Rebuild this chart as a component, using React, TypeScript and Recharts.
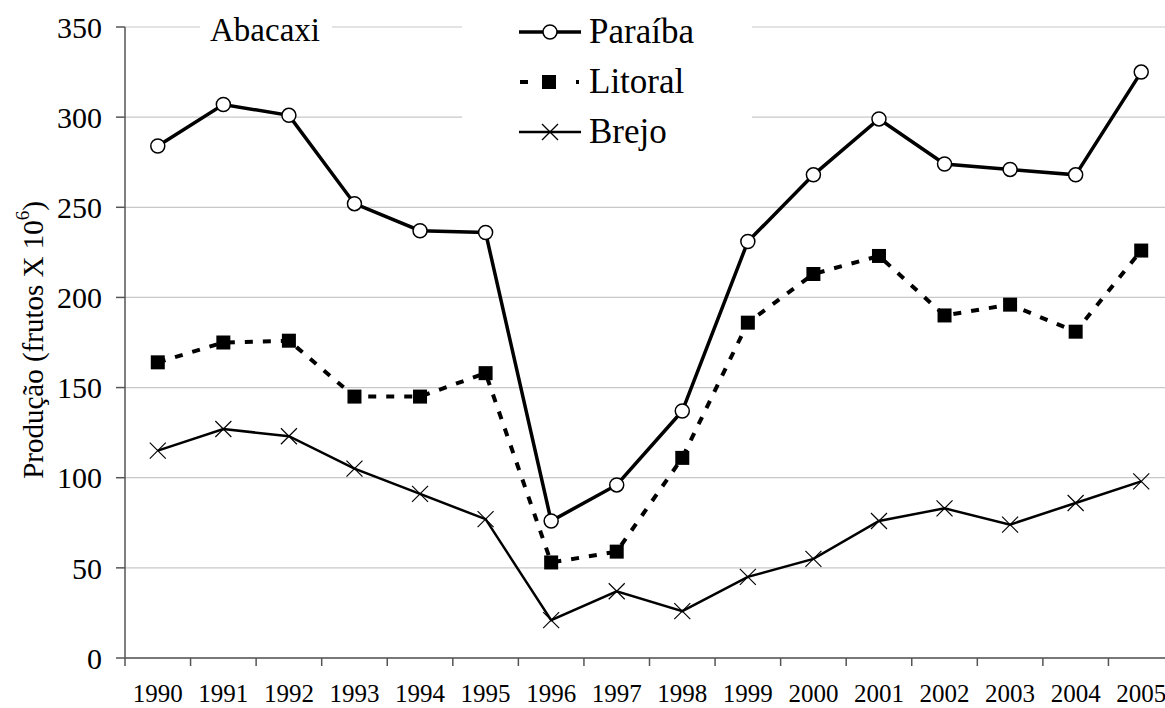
import { LineChart, Line, XAxis, YAxis, CartesianGrid } from "recharts";

// === Dados ===
const anos = ["1990", "1991", "1992", "1993", "1994", "1995", "1996", "1997", "1998", "1999", "2000", "2001", "2002", "2003", "2004", "2005"];
const paraiba = [284, 307, 301, 252, 237, 236, 76, 96, 137, 231, 268, 299, 274, 271, 268, 325];
const litoral = [164, 175, 176, 145, 145, 158, 53, 59, 111, 186, 213, 223, 190, 196, 181, 226];
const brejo = [115, 127, 123, 105, 91, 77, 21, 37, 26, 45, 55, 76, 83, 74, 86, 98];
const yTicks = [0, 50, 100, 150, 200, 250, 300, 350];

const data = anos.map((ano, i) => ({
  ano,
  Paraiba: paraiba[i],
  Litoral: litoral[i],
  Brejo: brejo[i],
}));

const FONT = "Liberation Serif";
const AXIS = "#555";
const X_TICK_MARGIN = 26;

// === Marcadores ===
const CircleDot = (p: any) =>
  p.cx == null ? null : <circle key={p.index} cx={p.cx} cy={p.cy} r={7} fill="#fff" stroke="#000" strokeWidth={1.5} />;

const SquareDot = (p: any) =>
  p.cx == null ? null : <rect key={p.index} x={p.cx - 7} y={p.cy - 7} width={14} height={14} fill="#000" />;

const CrossDot = (p: any) =>
  p.cx == null ? null : (
    <g key={p.index} stroke="#000" strokeWidth={1.2}>
      <line x1={p.cx - 8} y1={p.cy - 8} x2={p.cx + 8} y2={p.cy + 8} />
      <line x1={p.cx - 8} y1={p.cy + 8} x2={p.cx + 8} y2={p.cy - 8} />
    </g>
  );

// rótulo no centro da categoria, traço na divisa entre categorias
const YearTick = (p: any) => {
  const half = p.payload?.offset || 32.8;
  const axisY = p.y - X_TICK_MARGIN;
  return (
    <g>
      <line x1={p.x - half} x2={p.x - half} y1={axisY} y2={axisY + 8} stroke={AXIS} strokeWidth={1.5} />
      <text x={p.x} y={p.y} dy="0.71em" textAnchor="middle" fontFamily={FONT} fontSize={25} fill="#000">
        {p.payload.value}
      </text>
    </g>
  );
};

// === Legenda ===
function LegendRow({ kind, label }: { kind: string; label: string }) {
  return (
    <div style={{ display: "flex", alignItems: "center", height: 50 }}>
      <svg width={62} height={30} style={{ marginLeft: 57, marginRight: 8 }}>
        {kind === "circle" && (
          <g>
            <line x1={0} y1={15} x2={62} y2={15} stroke="#000" strokeWidth={3.5} />
            <circle cx={31} cy={15} r={7} fill="#fff" stroke="#000" strokeWidth={1.5} />
          </g>
        )}
        {kind === "square" && (
          <g>
            <line x1={1} y1={15} x2={9} y2={15} stroke="#000" strokeWidth={4} />
            <rect x={23} y={8} width={14} height={14} fill="#000" />
            <line x1={57} y1={15} x2={60} y2={15} stroke="#000" strokeWidth={4} />
          </g>
        )}
        {kind === "cross" && (
          <g stroke="#000">
            <line x1={0} y1={15} x2={62} y2={15} strokeWidth={2.5} />
            <line x1={23} y1={7} x2={39} y2={23} strokeWidth={1.2} />
            <line x1={23} y1={23} x2={39} y2={7} strokeWidth={1.2} />
          </g>
        )}
      </svg>
      <span style={{ fontSize: 35, lineHeight: "50px", fontFamily: FONT }}>{label}</span>
    </div>
  );
}

const YLabel = () => (
  <text
    x={33}
    y={340}
    transform="rotate(-90 33 340)"
    textAnchor="middle"
    dominantBaseline="central"
    fontFamily={FONT}
    fontSize={29}
    fill="#000"
  >
    Produção (frutos X 10
    <tspan dy={-11} fontSize={19}>6</tspan>
    <tspan dy={11}>)</tspan>
  </text>
);

export default function App() {
  return (
    <div
      style={{
        position: "fixed",
        left: 0,
        top: 0,
        width: 1165,
        height: 708,
        overflow: "hidden",
        background: "#fff",
        fontFamily: FONT,
        color: "#000",
      }}
    >
      <LineChart width={1180} height={708} data={data} margin={{ top: 27, right: 6, bottom: 0, left: 0 }}>
        <CartesianGrid vertical={false} stroke="#c8c8c8" strokeWidth={1.2} />
        <XAxis
          dataKey="ano"
          scale="band"
          stroke={AXIS}
          strokeWidth={1.5}
          tickLine={false}
          tickSize={0}
          tickMargin={X_TICK_MARGIN}
          height={50}
          interval={0}
          tick={YearTick}
        />
        <YAxis
          domain={[0, 350]}
          ticks={yTicks}
          width={125}
          tickSize={9}
          tickMargin={14}
          stroke={AXIS}
          strokeWidth={1.5}
          interval={0}
          tick={{ fontSize: 30, fill: "#000", fontFamily: FONT }}
          label={{ content: YLabel }}
        />
        <Line dataKey="Brejo" stroke="#000" strokeWidth={2.5} dot={CrossDot} activeDot={false} isAnimationActive={false} />
        <Line
          dataKey="Litoral"
          stroke="#000"
          strokeWidth={4}
          strokeDasharray="8 10"
          dot={SquareDot}
          activeDot={false}
          isAnimationActive={false}
        />
        <Line dataKey="Paraiba" stroke="#000" strokeWidth={3.5} dot={CircleDot} activeDot={false} isAnimationActive={false} />
      </LineChart>

      <div
        style={{
          position: "absolute",
          left: 200,
          top: 8,
          width: 132,
          height: 44,
          background: "#fff",
          fontSize: 33,
          lineHeight: "44px",
          paddingLeft: 10,
          boxSizing: "border-box",
        }}
      >
        Abacaxi
      </div>

      <div
        style={{
          position: "absolute",
          left: 462,
          top: 7,
          width: 290,
          height: 150,
          background: "#fff",
        }}
      >
        <LegendRow kind="circle" label="Paraíba" />
        <LegendRow kind="square" label="Litoral" />
        <LegendRow kind="cross" label="Brejo" />
      </div>
    </div>
  );
}
